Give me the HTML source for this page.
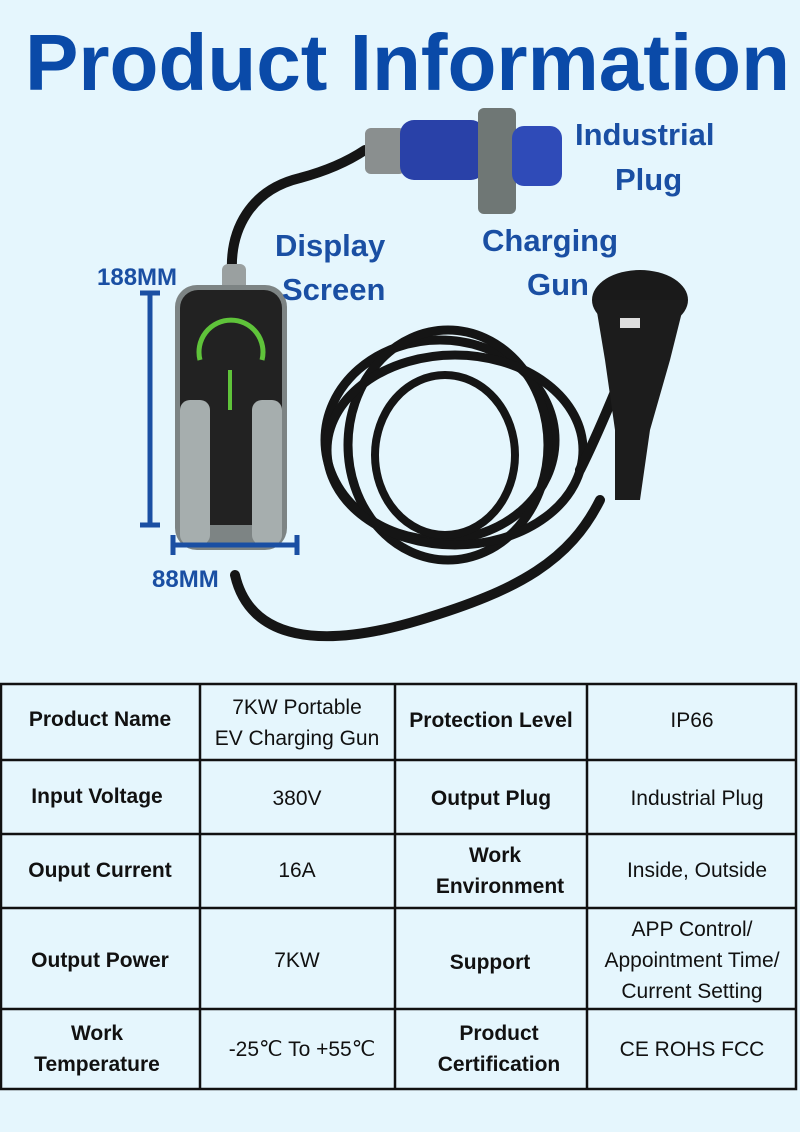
<!DOCTYPE html>
<html><head><meta charset="utf-8"><style>
html,body{margin:0;padding:0;background:#e5f6fd;}
svg{display:block}
text{font-family:"Liberation Sans",sans-serif}
.h{font-weight:bold;font-size:21px;fill:#111}
.v{font-size:21px;fill:#111}
.lb{font-weight:bold;fill:#1a4fa3;font-size:31px}
</style></head><body>
<svg width="800" height="1132" viewBox="0 0 800 1132" xmlns="http://www.w3.org/2000/svg">
<rect width="800" height="1132" fill="#e5f6fd"/>
<text x="25" y="90" font-size="80" font-weight="bold" fill="#0a4aa8" textLength="765" lengthAdjust="spacingAndGlyphs">Product Information</text>

<g fill="none" stroke="#151515" stroke-linecap="round">
<path d="M232 272 C230 230 250 190 300 178 C330 170 350 160 365 150" stroke-width="10"/>
<path d="M235 575 C250 640 320 650 420 620 C520 590 570 560 600 500" stroke-width="10"/>
<ellipse cx="440" cy="440" rx="115" ry="100" stroke-width="9"/>
<ellipse cx="448" cy="445" rx="100" ry="115" stroke-width="9"/>
<ellipse cx="455" cy="450" rx="128" ry="95" stroke-width="9"/>
<ellipse cx="445" cy="455" rx="70" ry="80" stroke-width="8"/>
<path d="M580 470 C600 430 620 380 640 330" stroke-width="10"/>
</g>

<rect x="365" y="128" width="40" height="46" rx="6" fill="#8a8f8f"/>
<rect x="400" y="120" width="85" height="60" rx="14" fill="#2941a8"/>
<rect x="478" y="108" width="38" height="106" rx="6" fill="#6f7775"/>
<rect x="512" y="126" width="50" height="60" rx="12" fill="#2f4bb8"/>

<ellipse cx="640" cy="300" rx="48" ry="30" fill="#1a1a1a"/>
<path d="M595 300 L685 300 L670 360 L650 430 L640 500 L615 500 L615 430 L605 360 Z" fill="#1c1c1c"/>
<rect x="620" y="318" width="20" height="10" fill="#ddd"/>

<rect x="222" y="264" width="24" height="30" rx="6" fill="#9aa0a0"/>
<rect x="175" y="285" width="112" height="265" rx="22" fill="#7d8484"/>
<rect x="180" y="290" width="102" height="235" rx="18" fill="#222"/>
<path d="M200 360 A32 32 0 1 1 262 360" fill="none" stroke="#5fc33a" stroke-width="5"/>
<line x1="230" y1="370" x2="230" y2="410" stroke="#5fc33a" stroke-width="4"/>
<rect x="180" y="400" width="30" height="145" rx="10" fill="#a6aeae"/>
<rect x="252" y="400" width="30" height="145" rx="10" fill="#a6aeae"/>

<g stroke="#1a4fa3" stroke-width="5">
<line x1="150" y1="293" x2="150" y2="525"/><line x1="140" y1="293" x2="160" y2="293"/><line x1="140" y1="525" x2="160" y2="525"/>
<line x1="173" y1="545" x2="297" y2="545"/><line x1="173" y1="535" x2="173" y2="555"/><line x1="297" y1="535" x2="297" y2="555"/>
</g>
<text x="97" y="285" font-size="24" font-weight="bold" fill="#1a4fa3">188MM</text>
<text x="152" y="587" font-size="24" font-weight="bold" fill="#1a4fa3">88MM</text>
<text class="lb" x="575" y="145">Industrial</text>
<text class="lb" x="615" y="190">Plug</text>
<text class="lb" x="275" y="256">Display</text>
<text class="lb" x="282" y="300">Screen</text>
<text class="lb" x="482" y="251">Charging</text>
<text class="lb" x="527" y="295">Gun</text>

<g stroke="#111" stroke-width="2.5" fill="none">
<rect x="1" y="684" width="795" height="405"/>
<line x1="200" y1="684" x2="200" y2="1089"/>
<line x1="395" y1="684" x2="395" y2="1089"/>
<line x1="587" y1="684" x2="587" y2="1089"/>
<line x1="1" y1="760" x2="796" y2="760"/>
<line x1="1" y1="834" x2="796" y2="834"/>
<line x1="1" y1="908" x2="796" y2="908"/>
<line x1="1" y1="1009" x2="796" y2="1009"/>
</g>
<g text-anchor="middle">
<text class="h" x="100" y="726">Product Name</text>
<text class="v" x="297" y="714">7KW Portable</text>
<text class="v" x="297" y="745">EV Charging Gun</text>
<text class="h" x="491" y="727">Protection Level</text>
<text class="v" x="692" y="727">IP66</text>
<text class="h" x="97" y="803">Input Voltage</text>
<text class="v" x="297" y="805">380V</text>
<text class="h" x="491" y="805">Output Plug</text>
<text class="v" x="697" y="805">Industrial Plug</text>
<text class="h" x="100" y="877">Ouput Current</text>
<text class="v" x="297" y="877">16A</text>
<text class="h" x="495" y="862">Work</text>
<text class="h" x="500" y="893">Environment</text>
<text class="v" x="697" y="877">Inside, Outside</text>
<text class="h" x="100" y="967">Output Power</text>
<text class="v" x="297" y="967">7KW</text>
<text class="h" x="490" y="969">Support</text>
<text class="v" x="692" y="936">APP Control/</text>
<text class="v" x="692" y="967">Appointment Time/</text>
<text class="v" x="692" y="998">Current Setting</text>
<text class="h" x="97" y="1040">Work</text>
<text class="h" x="97" y="1071">Temperature</text>
<text class="v" x="302" y="1056">-25℃ To +55℃</text>
<text class="h" x="499" y="1040">Product</text>
<text class="h" x="499" y="1071">Certification</text>
<text class="v" x="692" y="1056">CE ROHS FCC</text>
</g>
</svg>
</body></html>
